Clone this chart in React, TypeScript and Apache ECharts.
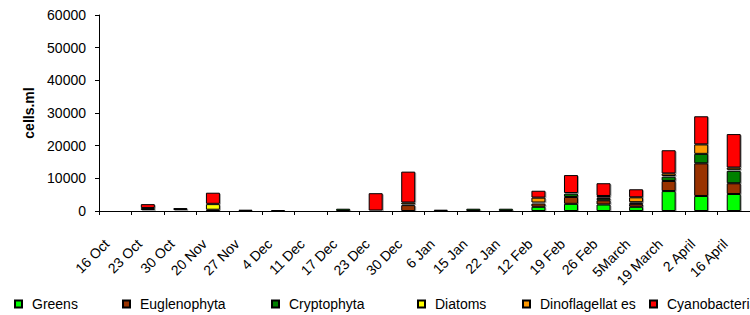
import React, { useEffect, useRef } from "react";
import * as echarts from "echarts";

const categories = [
  "16 Oct", "23 Oct", "30 Oct", "20 Nov", "27 Nov", "4 Dec", "11 Dec", "17 Dec",
  "23 Dec", "30 Dec", "6 Jan", "15 Jan", "22 Jan", "12 Feb", "19 Feb", "26 Feb",
  "5March", "19 March", "2 April", "16 April",
];

const greens = [0, 0, 0, 0, 0, 0, 0, 0, 0, 0, 0, 0, 0, 1300, 2200, 2000, 1300, 6100, 4600, 5200];
const euglenophyta = [0, 300, 300, 0, 0, 0, 0, 0, 0, 1800, 0, 0, 0, 1000, 2100, 1300, 900, 3100, 10000, 3300];
const cryptophyta = [0, 600, 600, 400, 400, 350, 0, 700, 150, 200, 400, 700, 700, 300, 1000, 700, 400, 1300, 2900, 3800];
const diatoms = [0, 0, 0, 1700, 0, 0, 0, 0, 0, 0, 0, 0, 0, 0, 0, 100, 100, 200, 0, 300];
const dinoflagellates = [0, 0, 0, 100, 0, 0, 0, 0, 0, 600, 0, 0, 0, 1500, 200, 500, 1500, 800, 2900, 700];
const cyanobacteria = [0, 1200, 0, 3400, 0, 0, 0, 0, 5300, 9450, 0, 0, 0, 2100, 5500, 3900, 2450, 7100, 8600, 10250];

const yTicks = { min: 0, max: 60000, interval: 10000 };

const seriesDefs = [
  { name: "Greens", data: greens, color: "#00FF00" },
  { name: "Euglenophyta", data: euglenophyta, color: "#993300" },
  { name: "Cryptophyta", data: cryptophyta, color: "#008000" },
  { name: "Diatoms", data: diatoms, color: "#FFFF00" },
  { name: "Dinoflagellat es", data: dinoflagellates, color: "#FF9900" },
  { name: "Cyanobacteria", data: cyanobacteria, color: "#FF0000" },
];

const legendLefts = [14, 122, 271, 417, 522, 649];

const FONT = "'Liberation Sans', Arial, sans-serif";

export default function App() {
  const ref = useRef<HTMLDivElement>(null);

  useEffect(() => {
    if (!ref.current) return;
    const chart = echarts.init(ref.current, undefined, { renderer: "svg" });
    chart.setOption({
      animation: false,
      backgroundColor: "#fff",
      textStyle: { fontFamily: FONT, color: "#000" },
      grid: { left: 99, top: 15, width: 666, height: 196 },
      legend: seriesDefs.map((s, i) => ({
        data: [s.name],
        left: legendLefts[i],
        top: 297,
        icon: "rect",
        itemWidth: 7,
        itemHeight: 7,
        itemGap: 0,
        padding: 0,
        textStyle: { fontFamily: FONT, fontSize: 14, color: "#000", padding: [0, 0, 0, 5] },
      })),
      xAxis: {
        type: "category",
        data: categories,
        boundaryGap: true,
        axisLine: { lineStyle: { color: "#000", width: 1 } },
        axisTick: { show: true, length: 4, interval: 0, lineStyle: { color: "#000" } },
        axisLabel: {
          interval: 0,
          rotate: 45,
          margin: 22,
          fontSize: 14,
          color: "#000",
          fontFamily: FONT,
          padding: [0, 12, 0, 0],
        },
      },
      yAxis: {
        type: "value",
        min: yTicks.min,
        max: yTicks.max,
        interval: yTicks.interval,
        name: "cells.ml",
        nameLocation: "middle",
        nameGap: 62,
        nameTextStyle: { fontFamily: FONT, fontSize: 14, fontWeight: "bold", color: "#000" },
        axisLine: { show: true, lineStyle: { color: "#000", width: 1 } },
        axisTick: { show: true, length: 4, lineStyle: { color: "#000" } },
        axisLabel: {
          margin: 13,
          fontSize: 14,
          color: "#000",
          fontFamily: FONT,
          formatter: (v: number) => String(v),
        },
        splitLine: { show: false },
      },
      series: seriesDefs.map((s) => ({
        name: s.name,
        type: "bar",
        stack: "total",
        barWidth: 14,
        data: s.data.map((v) => (v === 0 ? "-" : v)),
        itemStyle: {
          color: s.color,
          borderColor: "#000",
          borderWidth: 1,
          shadowColor: "rgba(0,0,0,0.35)",
          shadowOffsetX: 1,
          shadowOffsetY: 1,
          shadowBlur: 1,
        },
      })),
    });
    return () => chart.dispose();
  }, []);

  return (
    <div
      ref={ref}
      style={{ position: "fixed", left: 0, top: 0, width: 750, height: 315, background: "#fff" }}
    />
  );
}
